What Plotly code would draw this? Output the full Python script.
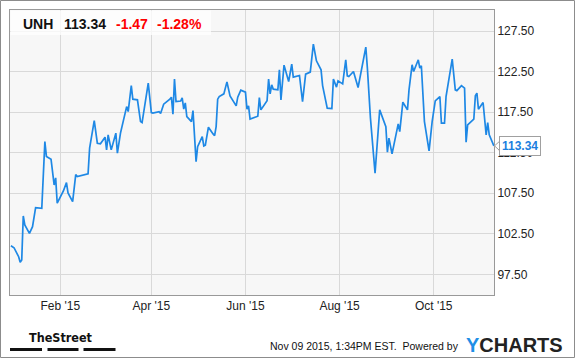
import plotly.graph_objects as go

ticker = "UNH"
last_price = "113.34"
change = "-1.47"
change_pct = "-1.28%"
timestamp = "Nov 09 2015, 1:34PM EST.  Powered by"

dates = [
    "2014-12-31", "2015-01-02", "2015-01-05", "2015-01-06", "2015-01-07", "2015-01-08", "2015-01-09",
    "2015-01-12", "2015-01-14", "2015-01-16", "2015-01-20", "2015-01-22", "2015-01-23", "2015-01-26",
    "2015-01-28", "2015-01-29", "2015-01-30", "2015-02-03", "2015-02-05", "2015-02-06", "2015-02-09",
    "2015-02-11", "2015-02-12", "2015-02-19", "2015-02-20", "2015-02-23", "2015-02-25", "2015-02-27",
    "2015-03-02", "2015-03-03", "2015-03-04", "2015-03-06", "2015-03-09", "2015-03-10", "2015-03-12",
    "2015-03-16", "2015-03-17", "2015-03-19", "2015-03-20", "2015-03-23", "2015-03-25", "2015-03-26",
    "2015-03-30", "2015-04-01", "2015-04-02", "2015-04-06", "2015-04-07", "2015-04-09", "2015-04-13",
    "2015-04-14", "2015-04-15", "2015-04-16", "2015-04-17", "2015-04-20", "2015-04-21", "2015-04-22",
    "2015-04-23", "2015-04-24", "2015-04-27", "2015-04-28", "2015-04-30", "2015-05-01", "2015-05-04",
    "2015-05-05", "2015-05-06", "2015-05-08", "2015-05-11", "2015-05-12", "2015-05-13", "2015-05-14",
    "2015-05-15", "2015-05-18", "2015-05-20", "2015-05-22", "2015-05-26", "2015-05-27", "2015-05-29",
    "2015-06-01", "2015-06-02", "2015-06-03", "2015-06-04", "2015-06-05", "2015-06-09", "2015-06-10",
    "2015-06-11", "2015-06-15", "2015-06-16", "2015-06-17", "2015-06-18", "2015-06-19", "2015-06-22",
    "2015-06-23", "2015-06-24", "2015-06-26", "2015-06-29", "2015-07-01", "2015-07-02", "2015-07-06",
    "2015-07-08", "2015-07-10", "2015-07-13", "2015-07-15", "2015-07-17", "2015-07-20", "2015-07-21",
    "2015-07-24", "2015-07-27", "2015-07-28", "2015-07-30", "2015-07-31", "2015-08-03", "2015-08-05",
    "2015-08-06", "2015-08-07", "2015-08-10", "2015-08-13", "2015-08-14", "2015-08-18", "2015-08-19",
    "2015-08-20", "2015-08-21", "2015-08-24", "2015-08-25", "2015-08-26", "2015-08-27", "2015-08-31",
    "2015-09-01", "2015-09-02", "2015-09-04", "2015-09-08", "2015-09-09", "2015-09-11", "2015-09-14",
    "2015-09-15", "2015-09-17", "2015-09-18", "2015-09-21", "2015-09-22", "2015-09-23", "2015-09-25",
    "2015-09-28", "2015-09-30", "2015-10-02", "2015-10-05", "2015-10-06", "2015-10-08", "2015-10-09",
    "2015-10-13", "2015-10-15", "2015-10-16", "2015-10-19", "2015-10-21", "2015-10-22", "2015-10-23",
    "2015-10-27", "2015-10-28", "2015-10-29", "2015-10-30", "2015-11-02", "2015-11-04", "2015-11-05",
    "2015-11-06", "2015-11-09",
]

prices = [
    101.03, 100.78, 99.67, 98.98, 99.27, 104.70, 103.59,
    102.56, 103.38, 105.72, 105.65, 113.87, 112.04, 111.70,
    108.52, 109.39, 106.27, 107.78, 108.81, 107.54, 106.46,
    109.80, 109.55, 109.90, 113.06, 116.46, 113.67, 113.59,
    114.41, 112.85, 114.70, 112.85, 114.91, 112.44, 114.91,
    118.19, 117.57, 120.78, 119.10, 119.02, 116.34, 116.22,
    121.08, 117.45, 117.38, 117.57, 117.33, 118.49, 119.10,
    119.35, 117.25, 121.57, 118.81, 118.87, 119.27, 117.87,
    118.65, 116.96, 116.34, 117.70, 111.40, 113.25, 114.49,
    113.34, 113.43, 115.65, 114.82, 114.61, 115.72, 119.10,
    119.43, 119.76, 121.24, 119.51, 118.28, 119.35, 120.22,
    119.97, 117.87, 118.28, 116.64, 116.71, 117.00, 119.30,
    117.78, 118.90, 121.57, 119.76, 120.87, 120.34, 120.25,
    122.72, 119.02, 123.30, 121.28, 123.42, 121.82, 122.02,
    118.81, 122.19, 122.44, 125.90, 123.83, 122.72, 120.78,
    117.99, 117.94, 121.57, 120.59, 121.36, 120.99, 123.96,
    121.98, 121.90, 122.51, 120.54, 121.57, 125.52, 123.00,
    120.00, 116.80, 109.97, 112.50, 115.00, 117.78, 115.72,
    112.56, 114.29, 112.35, 116.06, 115.10, 118.73, 117.78,
    120.25, 123.34, 122.51, 123.96, 122.93, 123.22, 116.34,
    112.72, 116.34, 118.90, 119.43, 116.14, 116.14, 119.43,
    124.04, 120.25, 120.16, 120.78, 120.46, 113.80, 115.93,
    116.64, 119.51, 119.85, 117.87, 118.69, 114.70, 116.22,
    114.70, 113.34,
]

y_ticks = [97.5, 102.5, 107.5, 112.5, 117.5, 122.5, 127.5]
y_tick_text = ["97.50", "102.50", "107.50", "112.50", "117.50", "122.50", "127.50"]

LINE = "#1e88e5"
FONT = "Arial, Liberation Sans, sans-serif"

fig = go.Figure()
fig.add_trace(go.Scatter(x=dates, y=prices, mode="lines",
                         line=dict(color=LINE, width=1.7), hoverinfo="skip"))

fig.update_layout(
    width=575, height=358,
    margin=dict(l=10, r=81, t=10, b=63),
    paper_bgcolor="white", plot_bgcolor="#f7f7f7",
    showlegend=False,
    font=dict(family=FONT, size=12, color="#222"),
    xaxis=dict(
        type="date", range=["2014-12-30 09:36", "2015-11-09 02:00"],
        tick0="2015-02-01", dtick="M2", tickformat="%b '%y",
        showgrid=True, gridcolor="#d9d9d9", gridwidth=1,
        showline=True, linecolor="#999", mirror=True, linewidth=1,
        ticks="", zeroline=False, fixedrange=True,
        tickfont=dict(family=FONT, size=12, color="#222"),
    ),
    yaxis=dict(
        side="right", range=[94.95, 130.1],
        tickvals=y_ticks, ticktext=y_tick_text,
        showgrid=True, gridcolor="#d9d9d9", gridwidth=1,
        showline=True, linecolor="#999", mirror=True, linewidth=1,
        ticks="", zeroline=False, fixedrange=True,
        tickfont=dict(family=FONT, size=12, color="#222"),
    ),
)

shapes = []
# outer frame of the whole image
shapes.append(dict(type="rect", xref="paper", yref="paper", xsizemode="pixel", ysizemode="pixel",
                   xanchor=0, yanchor=0, x0=-9.5, x1=564.5, y0=-62.5, y1=294.5,
                   line=dict(color="#8c8c8c", width=1), fillcolor="rgba(0,0,0,0)", layer="above"))
# header box
shapes.append(dict(type="rect", xref="paper", yref="paper", xsizemode="pixel", ysizemode="pixel",
                   xanchor=0, yanchor=1, x0=0.5, x1=201, y0=-0.5, y1=-25,
                   line=dict(width=0), fillcolor="rgba(255,255,255,0.75)", layer="above"))
# notch of the last-price callout
shapes.append(dict(type="path", xref="paper", yref="y", xsizemode="pixel", ysizemode="pixel",
                   xanchor=1, yanchor=prices[-1],
                   path="M 0.5,0 L 6,5 L 6,-5 Z",
                   line=dict(color="#a0a0a0", width=1), fillcolor="white", layer="above"))
# TheStreet bars
for bx0, bx1 in [(0, 32), (37.5, 68.5), (73.5, 105.5)]:
    shapes.append(dict(type="rect", xref="paper", yref="paper", xsizemode="pixel", ysizemode="pixel",
                       xanchor=0, yanchor=0, x0=bx0, x1=bx1, y0=-53, y1=-56,
                       line=dict(width=0), fillcolor="#111", layer="above"))
fig.update_layout(shapes=shapes)

def px_x(p):
    return (p - 10) / 484.0

def px_y(p):
    return (295 - p) / 285.0

ann = []
hy = px_y(23.5)
ann.append(dict(x=px_x(21), y=hy, text="<b>%s</b>" % ticker, font=dict(size=14, color="#111", family=FONT)))
ann.append(dict(x=px_x(61.5), y=hy, text="<b>%s</b>" % last_price, font=dict(size=14, color="#111", family=FONT)))
ann.append(dict(x=px_x(114), y=hy, text="<b>%s</b>" % change, font=dict(size=14, color="#ff0000", family=FONT)))
ann.append(dict(x=px_x(154.5), y=hy, text="<b>%s</b>" % change_pct, font=dict(size=14, color="#ff0000", family=FONT)))
for a in ann:
    a.update(xref="paper", yref="paper", xanchor="left", yanchor="middle", showarrow=False)

# last price callout box
ann.append(dict(xref="paper", yref="y", x=1, y=prices[-1], xshift=5, xanchor="left", yanchor="middle",
                text="<b>%s</b>" % last_price, showarrow=False,
                bgcolor="white", bordercolor="#a0a0a0", borderwidth=1, borderpad=2,
                font=dict(size=12, color="#1a7fe0", family=FONT)))
# footer
ann.append(dict(xref="paper", yref="paper", x=px_x(61), y=px_y(337), xanchor="center", yanchor="middle",
                text="<b>TheStreet</b>", showarrow=False,
                font=dict(size=12.5, color="#111",
                          family="Liberation Sans Narrow, DejaVu Sans Condensed, Arial Narrow, Arial, sans-serif")))
ann.append(dict(xref="paper", yref="paper", x=px_x(268), y=px_y(346), xanchor="left", yanchor="middle",
                text=timestamp, showarrow=False,
                font=dict(size=10.5, color="#111", family=FONT)))
ann.append(dict(xref="paper", yref="paper", x=px_x(464), y=px_y(345), xanchor="left", yanchor="middle",
                text="<b><span style='color:#1e8fe6'>Y</span>CHARTS</b>", showarrow=False,
                font=dict(size=20, color="#222", family=FONT)))
fig.update_layout(annotations=ann)

fig.write_html("out.html", config=dict(displayModeBar=False, staticPlot=True))
